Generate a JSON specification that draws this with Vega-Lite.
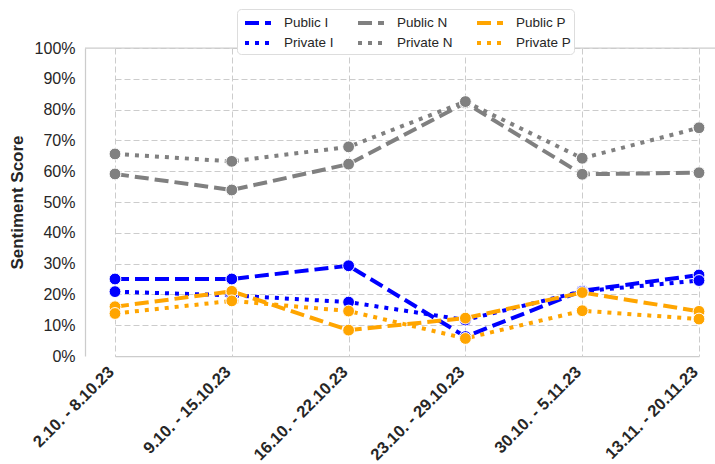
{
  "$schema": "https://vega.github.io/schema/vega-lite/v6.json",
  "width": 630,
  "height": 308,
  "autosize": "none",
  "padding": {"left": 85, "top": 48, "right": 0, "bottom": 108},
  "background": "white",
  "config": {
    "font": "Liberation Sans",
    "view": {"stroke": null},
    "axis": {
      "grid": true,
      "gridDash": [6, 3],
      "gridColor": "#cccccc",
      "gridWidth": 1,
      "domain": true,
      "domainColor": "#cccccc",
      "domainWidth": 1.25,
      "ticks": false,
      "labelColor": "#262626",
      "titleColor": "#262626"
    },
    "axisX": {
      "labelAngle": -45,
      "labelAlign": "right",
      "labelBaseline": "middle",
      "labelFontSize": 16.5,
      "labelFontWeight": "bold",
      "labelPadding": 13,
      "labelOffset": -4
    },
    "axisY": {
      "labelFontSize": 16,
      "labelPadding": 10,
      "labelOverlap": false,
      "titleFontSize": 17,
      "titleFontWeight": "bold",
      "titlePadding": 8
    },
    "legend": {
      "orient": "none",
      "legendX": 152,
      "legendY": -39,
      "columns": 3,
      "labelFontSize": 13.5,
      "labelColor": "#262626",
      "labelLimit": 200,
      "labelOffset": 15,
      "symbolType": "M-1.5,0H1.5",
      "symbolSize": 300,
      "symbolOffset": 7,
      "symbolStrokeWidth": 4,
      "columnPadding": 16,
      "rowPadding": 1,
      "padding": 3,
      "strokeColor": "#dddddd",
      "fillColor": "white",
      "cornerRadius": 4
    }
  },
  "resolve": {"legend": {"color": "independent", "strokeDash": "independent"}},
  "datasets": {
    "scores": [
      {"week": "2.10. - 8.10.23", "series": "Public I", "value": 0.250},
      {"week": "9.10. - 15.10.23", "series": "Public I", "value": 0.250},
      {"week": "16.10. - 22.10.23", "series": "Public I", "value": 0.293},
      {"week": "23.10. - 29.10.23", "series": "Public I", "value": 0.063},
      {"week": "30.10. - 5.11.23", "series": "Public I", "value": 0.212},
      {"week": "13.11. - 20.11.23", "series": "Public I", "value": 0.263},
      {"week": "2.10. - 8.10.23", "series": "Private I", "value": 0.209},
      {"week": "9.10. - 15.10.23", "series": "Private I", "value": 0.197},
      {"week": "16.10. - 22.10.23", "series": "Private I", "value": 0.175},
      {"week": "23.10. - 29.10.23", "series": "Private I", "value": 0.117},
      {"week": "30.10. - 5.11.23", "series": "Private I", "value": 0.210},
      {"week": "13.11. - 20.11.23", "series": "Private I", "value": 0.245},
      {"week": "2.10. - 8.10.23", "series": "Public N", "value": 0.591},
      {"week": "9.10. - 15.10.23", "series": "Public N", "value": 0.539},
      {"week": "16.10. - 22.10.23", "series": "Public N", "value": 0.623},
      {"week": "23.10. - 29.10.23", "series": "Public N", "value": 0.822},
      {"week": "30.10. - 5.11.23", "series": "Public N", "value": 0.590},
      {"week": "13.11. - 20.11.23", "series": "Public N", "value": 0.595},
      {"week": "2.10. - 8.10.23", "series": "Private N", "value": 0.656},
      {"week": "9.10. - 15.10.23", "series": "Private N", "value": 0.632},
      {"week": "16.10. - 22.10.23", "series": "Private N", "value": 0.679},
      {"week": "23.10. - 29.10.23", "series": "Private N", "value": 0.826},
      {"week": "30.10. - 5.11.23", "series": "Private N", "value": 0.642},
      {"week": "13.11. - 20.11.23", "series": "Private N", "value": 0.741},
      {"week": "2.10. - 8.10.23", "series": "Public P", "value": 0.160},
      {"week": "9.10. - 15.10.23", "series": "Public P", "value": 0.210},
      {"week": "16.10. - 22.10.23", "series": "Public P", "value": 0.084},
      {"week": "23.10. - 29.10.23", "series": "Public P", "value": 0.123},
      {"week": "30.10. - 5.11.23", "series": "Public P", "value": 0.206},
      {"week": "13.11. - 20.11.23", "series": "Public P", "value": 0.145},
      {"week": "2.10. - 8.10.23", "series": "Private P", "value": 0.138},
      {"week": "9.10. - 15.10.23", "series": "Private P", "value": 0.179},
      {"week": "16.10. - 22.10.23", "series": "Private P", "value": 0.146},
      {"week": "23.10. - 29.10.23", "series": "Private P", "value": 0.057},
      {"week": "30.10. - 5.11.23", "series": "Private P", "value": 0.147},
      {"week": "13.11. - 20.11.23", "series": "Private P", "value": 0.120}
    ],
    "frame": [{"value": 1}]
  },
  "data": {"name": "scores"},
  "layer": [
    {
      "mark": {"type": "line", "strokeWidth": 4, "strokeCap": "butt"},
      "encoding": {
        "x": {
          "field": "week",
          "type": "ordinal",
          "sort": ["2.10. - 8.10.23", "9.10. - 15.10.23", "16.10. - 22.10.23", "23.10. - 29.10.23", "30.10. - 5.11.23", "13.11. - 20.11.23"],
          "scale": {"type": "point", "range": [30, 614], "padding": 0},
          "axis": {"title": null}
        },
        "y": {
          "field": "value",
          "type": "quantitative",
          "scale": {"domain": [0, 1], "nice": false},
          "axis": {"title": "Sentiment Score", "format": ".0%", "values": [0, 0.1, 0.2, 0.3, 0.4, 0.5, 0.6, 0.7, 0.8, 0.9, 1]}
        },
        "color": {
          "field": "series",
          "type": "nominal",
          "title": null,
          "scale": {
            "domain": ["Public I", "Private I", "Public N", "Private N", "Public P", "Private P"],
            "range": ["#0000ff", "#0000ff", "#808080", "#808080", "#ffa500", "#ffa500"]
          }
        },
        "strokeDash": {
          "field": "series",
          "type": "nominal",
          "title": null,
          "scale": {
            "domain": ["Public I", "Private I", "Public N", "Private N", "Public P", "Private P"],
            "range": [[14, 6], [4, 6], [14, 6], [4, 6], [14, 6], [4, 6]]
          }
        }
      }
    },
    {
      "mark": {"type": "circle", "size": 140, "opacity": 1, "stroke": "white", "strokeWidth": 1},
      "encoding": {
        "x": {
          "field": "week",
          "type": "ordinal",
          "sort": ["2.10. - 8.10.23", "9.10. - 15.10.23", "16.10. - 22.10.23", "23.10. - 29.10.23", "30.10. - 5.11.23", "13.11. - 20.11.23"],
          "axis": {"title": null}
        },
        "y": {
          "field": "value",
          "type": "quantitative",
          "axis": {"title": "Sentiment Score", "format": ".0%", "values": [0, 0.1, 0.2, 0.3, 0.4, 0.5, 0.6, 0.7, 0.8, 0.9, 1]}
        },
        "color": {
          "field": "series",
          "type": "nominal",
          "legend": null,
          "scale": {
            "domain": ["Public I", "Private I", "Public N", "Private N", "Public P", "Private P"],
            "range": ["#0000ff", "#0000ff", "#808080", "#808080", "#ffa500", "#ffa500"]
          }
        }
      }
    },
    {
      "data": {"name": "frame"},
      "mark": {"type": "rule", "color": "#cccccc", "strokeWidth": 1.25},
      "encoding": {
        "y": {
          "field": "value",
          "type": "quantitative",
          "axis": {"title": "Sentiment Score", "format": ".0%", "values": [0, 0.1, 0.2, 0.3, 0.4, 0.5, 0.6, 0.7, 0.8, 0.9, 1]}
        }
      }
    }
  ]
}
